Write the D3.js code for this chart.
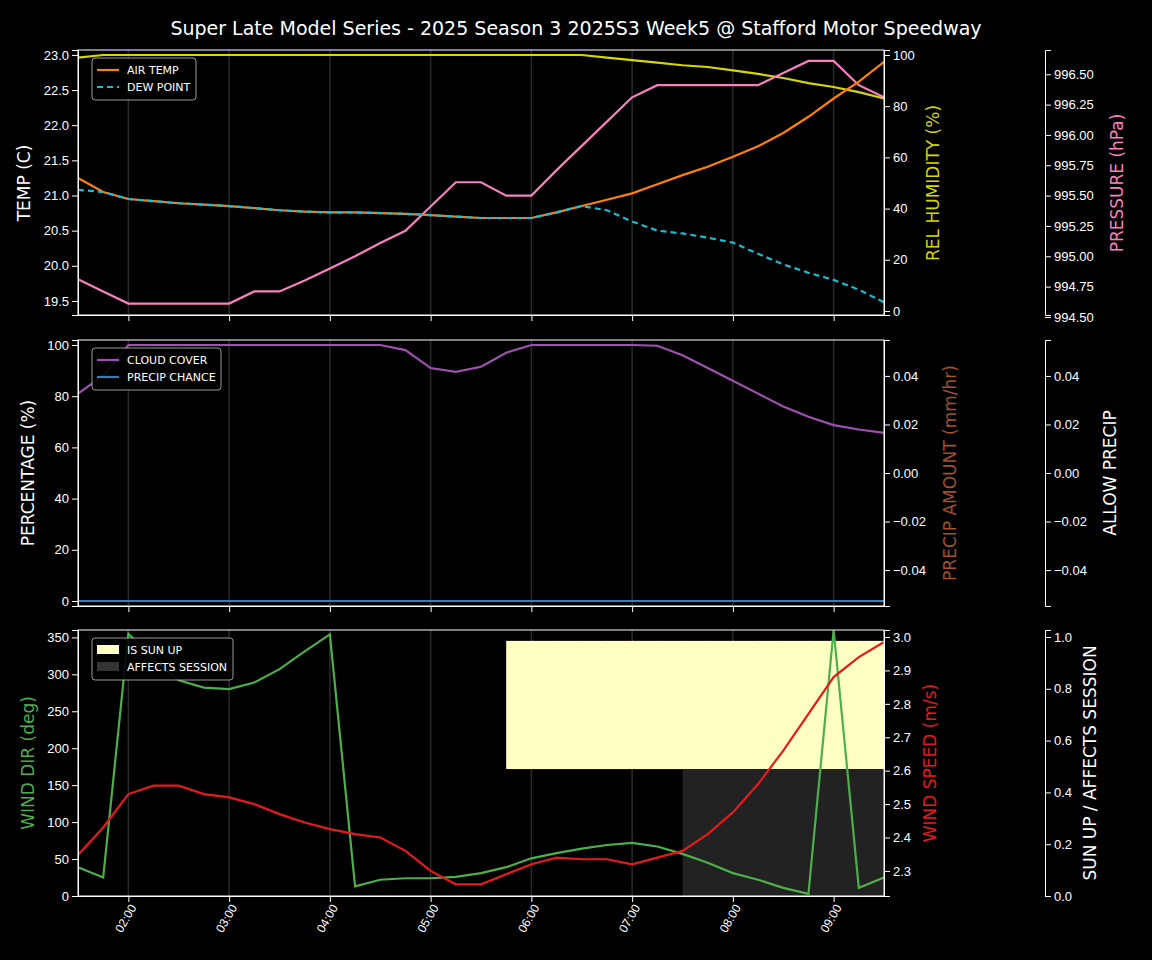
<!DOCTYPE html>
<html><head><meta charset="utf-8">
<script src="https://cdn.jsdelivr.net/npm/d3@7"></script>
<style>body{margin:0;background:#000}svg{font-family:"DejaVu Sans",sans-serif}</style>
</head><body><div id="chart"></div>
<script>
// 15 minute steps 01:30 .. 09:30
const times = d3.range(33).map(i => new Date(2025, 0, 1, 1, 30 + i * 15));

const airTemp = [21.25,21.05,20.95,20.92,20.89,20.87,20.85,20.82,20.79,20.77,20.76,20.76,20.75,20.74,20.72,20.70,20.68,20.68,20.68,20.76,20.85,20.94,21.03,21.16,21.29,21.41,21.55,21.70,21.89,22.12,22.38,22.62,22.90];
const dewPoint = [21.08,21.05,20.95,20.92,20.89,20.87,20.85,20.82,20.79,20.77,20.76,20.76,20.75,20.74,20.72,20.70,20.68,20.68,20.68,20.76,20.85,20.79,20.63,20.50,20.46,20.40,20.33,20.17,20.02,19.90,19.80,19.66,19.48];
const humidity = [99,100,100,100,100,100,100,100,100,100,100,100,100,100,100,100,100,100,100,100,100,99,98,97,96,95.3,94,92.6,91,89,87.5,85.5,83];
const pressure = [994.81,994.71,994.61,994.61,994.61,994.61,994.61,994.71,994.71,994.80,994.90,995.0,995.11,995.21,995.41,995.61,995.61,995.5,995.5,995.71,995.91,996.11,996.31,996.41,996.41,996.41,996.41,996.41,996.51,996.61,996.61,996.41,996.31];
const cloudCover = [81,88,100,100,100,100,100,100,100,100,100,100,100,98,91,89.5,91.5,97,100,100,100,100,100,99.7,96,91,86,81,76,72,68.7,67,65.7];
const precipChance = times.map(() => 0);
const windDir = [39,25,355,320,292,282,280,289,307,331,354,13,22,24,24,26,31,39,51,58,64,69,72,67,57,45,31,22,11,3,360,11,25];
const windSpeed = [2.348,2.43,2.53,2.555,2.555,2.53,2.52,2.50,2.47,2.445,2.425,2.41,2.40,2.36,2.30,2.26,2.26,2.29,2.32,2.34,2.335,2.335,2.32,2.34,2.36,2.41,2.475,2.56,2.66,2.77,2.88,2.94,2.985];
const sunUp = [0,0,0,0,0,0,0,0,0,0,0,0,0,0,0,0,0,1,1,1,1,1,1,1,1,1,1,1,1,1,1,1,1];
const affects = [0,0,0,0,0,0,0,0,0,0,0,0,0,0,0,0,0,0,0,0,0,0,0,0,1,1,1,1,1,1,1,1,1];

const W = 1152, H = 960, L = 78, R = 884;
const svg = d3.select("#chart").append("svg").attr("width", W).attr("height", H).style("background", "#000");

svg.append("text").attr("x", 576).attr("y", 35).attr("text-anchor", "middle").attr("fill", "#fff")
  .style("font-size", "19px").text("Super Late Model Series - 2025 Season 3 2025S3 Week5 @ Stafford Motor Speedway");

const x = d3.scaleTime().domain([times[0], times[32]]).range([L, R]);
const hours = d3.range(2, 10).map(h => new Date(2025, 0, 1, h, 0));

function styleAxis(a) {
  a.selectAll("path,line").attr("stroke", "#fff");
  a.selectAll("text").attr("fill", "#fff").style("font-size", "13px");
  return a;
}

function panel(top, bottom, showLabels) {
  const g = svg.append("g");
  g.selectAll(".grid").data(hours).join("line")
    .attr("x1", d => x(d)).attr("x2", d => x(d)).attr("y1", top).attr("y2", bottom)
    .attr("stroke", "#2a2a2a").attr("stroke-width", 1.5);
  const ax = styleAxis(svg.append("g").attr("transform", `translate(0,${bottom})`)
    .call(d3.axisBottom(x).tickValues(hours).tickFormat(showLabels ? d3.timeFormat("%H:%M") : "").tickSizeOuter(0)));
  if (showLabels) ax.selectAll("text").attr("transform", "rotate(-60)").attr("text-anchor", "end")
    .attr("dx", "-0.5em").attr("dy", "0.3em").style("font-size", "12px");
  return g;
}

function yLabel(xp, yc, text, color) {
  svg.append("text").attr("transform", `translate(${xp},${yc}) rotate(-90)`).attr("text-anchor", "middle")
    .attr("dy", "0.35em").attr("fill", color).style("font-size", "17px").text(text);
}

function line(g, vals, y, color, dash) {
  g.append("path").datum(vals).attr("fill", "none").attr("stroke", color).attr("stroke-width", 2.2)
    .attr("stroke-dasharray", dash || null)
    .attr("d", d3.line().x((d, i) => x(times[i])).y(d => y(d)));
}

function frame(top, bottom) {
  svg.append("rect").attr("x", L).attr("y", top).attr("width", R - L).attr("height", bottom - top)
    .attr("fill", "none").attr("stroke", "#fff").attr("stroke-width", 1);
}

function legend(top, items, w) {
  const g = svg.append("g").attr("transform", `translate(92,${top})`);
  g.append("rect").attr("width", w).attr("height", items.length * 17 + 8).attr("rx", 3)
    .attr("fill", "#000").attr("stroke", "#aaa").attr("opacity", 0.9);
  items.forEach((it, i) => {
    const yy = 12 + i * 17;
    if (it.box) g.append("rect").attr("x", 5).attr("y", yy - 5).attr("width", 22).attr("height", 9).attr("fill", it.color);
    else g.append("line").attr("x1", 5).attr("x2", 27).attr("y1", yy).attr("y2", yy).attr("stroke", it.color)
      .attr("stroke-width", 2.2).attr("stroke-dasharray", it.dash || null);
    g.append("text").attr("x", 35).attr("y", yy).attr("dy", "0.35em").attr("fill", "#fff").style("font-size", "11px").text(it.name);
  });
}

// panel 1
const p1 = panel(50, 315, false);
const yT = d3.scaleLinear().domain([19.30, 23.07]).range([315, 50]);
const yH = d3.scaleLinear().domain([-1.56, 101.95]).range([315, 50]);
const yP = d3.scaleLinear().domain([994.516, 996.70]).range([315, 50]);
line(p1, humidity, yH, "#d6d600");
line(p1, pressure, yP, "#f781bf");
line(p1, airTemp, yT, "#ff7f0e");
line(p1, dewPoint, yT, "#17becf", "6,4");
styleAxis(svg.append("g").attr("transform", `translate(${L},0)`).call(d3.axisLeft(yT).tickValues(d3.range(19.5, 23.01, 0.5)).tickFormat(d3.format(".1f"))));
styleAxis(svg.append("g").attr("transform", `translate(${R},0)`).call(d3.axisRight(yH).tickValues([0, 20, 40, 60, 80, 100])));
styleAxis(svg.append("g").attr("transform", "translate(1045,0)").call(d3.axisRight(yP).tickValues(d3.range(994.5, 996.51, 0.25)).tickFormat(d3.format(".2f"))));
frame(50, 315);
yLabel(24, 183, "TEMP (C)", "#fff");
yLabel(933, 183, "REL HUMIDITY (%)", "#d6d600");
yLabel(1117, 183, "PRESSURE (hPa)", "#f781bf");
legend(58, [{name: "AIR TEMP", color: "#ff7f0e"}, {name: "DEW POINT", color: "#17becf", dash: "6,4"}], 104);

// panel 2
const p2 = panel(340, 606, false);
const yPc = d3.scaleLinear().domain([-1.95, 101.95]).range([606, 340]);
const yA = d3.scaleLinear().domain([-0.0548, 0.0548]).range([606, 340]);
line(p2, cloudCover, yPc, "#a050b0");
line(p2, precipChance, yPc, "#377eb8");
styleAxis(svg.append("g").attr("transform", `translate(${L},0)`).call(d3.axisLeft(yPc).tickValues([0, 20, 40, 60, 80, 100])));
styleAxis(svg.append("g").attr("transform", `translate(${R},0)`).call(d3.axisRight(yA).tickValues([-0.04, -0.02, 0, 0.02, 0.04]).tickFormat(d3.format(".2f"))));
styleAxis(svg.append("g").attr("transform", "translate(1045,0)").call(d3.axisRight(yA).tickValues([-0.04, -0.02, 0, 0.02, 0.04]).tickFormat(d3.format(".2f"))));
frame(340, 606);
yLabel(28, 473, "PERCENTAGE (%)", "#fff");
yLabel(950, 473, "PRECIP AMOUNT (mm/hr)", "#a0522d");
yLabel(1110, 473, "ALLOW PRECIP", "#fff");
legend(348, [{name: "CLOUD COVER", color: "#a050b0"}, {name: "PRECIP CHANCE", color: "#377eb8"}], 129);

// panel 3
const p3 = panel(630, 896, true);
const yD = d3.scaleLinear().domain([0, 360]).range([896, 630]);
const yS = d3.scaleLinear().domain([2.225, 3.021]).range([896, 630]);
const yU = d3.scaleLinear().domain([0, 1.027]).range([896, 630]);
const step = x(times[1]) - x(times[0]);
p3.selectAll(".sun").data(sunUp.map((v, i) => [v, i]).filter(d => d[0] && d[1] < 32)).join("rect")
  .attr("x", d => x(times[d[1]])).attr("width", step + 1)
  .attr("y", yU(0.985)).attr("height", yU(0.49) - yU(0.985)).attr("fill", "#ffffc4");
p3.selectAll(".aff").data(affects.map((v, i) => [v, i]).filter(d => d[0] && d[1] < 32)).join("rect")
  .attr("x", d => x(times[d[1]])).attr("width", step + 1)
  .attr("y", yU(0.49)).attr("height", yU(0) - yU(0.49)).attr("fill", "#222");
line(p3, windDir, yD, "#4daf4a");
line(p3, windSpeed, yS, "#e41a1c");
styleAxis(svg.append("g").attr("transform", `translate(${L},0)`).call(d3.axisLeft(yD).tickValues(d3.range(0, 351, 50))));
styleAxis(svg.append("g").attr("transform", `translate(${R},0)`).call(d3.axisRight(yS).tickValues(d3.range(2.3, 3.01, 0.1)).tickFormat(d3.format(".1f"))));
styleAxis(svg.append("g").attr("transform", "translate(1045,0)").call(d3.axisRight(yU).tickValues([0, 0.2, 0.4, 0.6, 0.8, 1.0]).tickFormat(d3.format(".1f"))));
frame(630, 896);
yLabel(28, 763, "WIND DIR (deg)", "#4daf4a");
yLabel(930, 763, "WIND SPEED (m/s)", "#e41a1c");
yLabel(1090, 763, "SUN UP / AFFECTS SESSION", "#fff");
legend(638, [{name: "IS SUN UP", color: "#ffffc4", box: true}, {name: "AFFECTS SESSION", color: "#333", box: true}], 141);
</script></body></html>
